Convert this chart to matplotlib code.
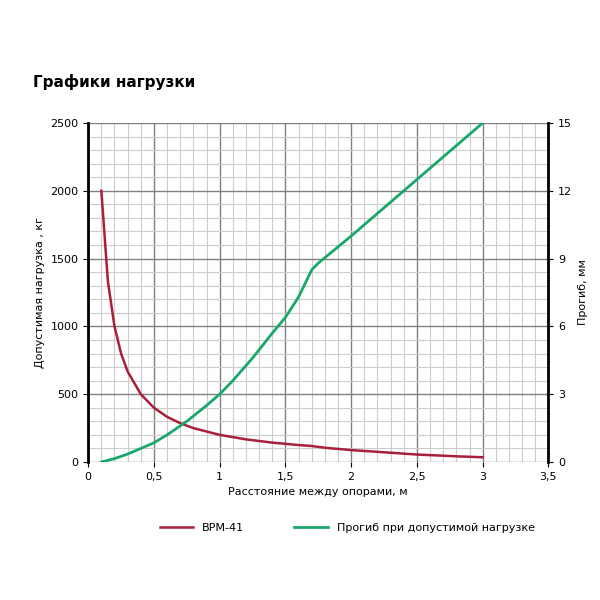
import numpy as np
import matplotlib.pyplot as plt
from matplotlib.ticker import MultipleLocator, FixedLocator, FuncFormatter

span = [0.1, 0.15, 0.2, 0.25, 0.3, 0.4, 0.5, 0.6, 0.7, 0.8, 1.0, 1.2, 1.4, 1.6, 1.7, 1.8, 2.0, 2.2, 2.5, 2.8, 3.0]
load = [2000, 1330, 1000, 800, 667, 500, 400, 333, 286, 250, 200, 167, 143, 125, 118, 105, 88, 75, 55, 42, 35]
span_d = [0.1, 0.2, 0.3, 0.4, 0.5, 0.6, 0.75, 0.9, 1.0, 1.1, 1.25, 1.4, 1.5, 1.6, 1.65, 1.7, 1.75, 2.0, 2.5, 3.0]
defl = [0.0, 0.15, 0.35, 0.6, 0.85, 1.2, 1.8, 2.5, 3.0, 3.6, 4.6, 5.7, 6.4, 7.3, 7.9, 8.5, 8.8, 10.0, 12.5, 15.0]

red = '#a8203a'
green = '#1aa86a'
comma = FuncFormatter(lambda v, p: f'{v:g}'.replace('.', ','))

fig = plt.figure(figsize=(6, 6), dpi=100)
ax = fig.add_axes([0.147, 0.23, 0.767, 0.565])
ax2 = ax.twinx()

ax.set_xlim(0, 3.5)
ax.set_ylim(0, 2500)
ax2.set_ylim(0, 15)
ax.xaxis.set_major_locator(MultipleLocator(0.5))
ax.xaxis.set_minor_locator(FixedLocator([i / 10 for i in range(36) if i % 5]))
ax.yaxis.set_major_locator(MultipleLocator(500))
ax.yaxis.set_minor_locator(FixedLocator([i * 100 for i in range(26) if i % 5]))
ax2.yaxis.set_major_locator(MultipleLocator(3))
ax.xaxis.set_major_formatter(comma)
ax.grid(which='minor', color='#cccccc', lw=0.8)
ax.grid(which='major', color='#808080', lw=1.0)
ax.set_axisbelow(True)
ax.tick_params(which='minor', length=0)
ax.tick_params(labelsize=8)
ax2.tick_params(labelsize=8)

for a in (ax, ax2):
    for s in ('top', 'bottom'):
        a.spines[s].set_visible(False)
ax.spines['left'].set_linewidth(2)
ax2.spines['right'].set_linewidth(2)
ax.spines['right'].set_visible(False)
ax2.spines['left'].set_visible(False)

ax.plot(span, load, color=red, lw=1.8, label='ВРМ-41')
ax2.plot(span_d, defl, color=green, lw=2, label='Прогиб при допустимой нагрузке')

ax.set_xlabel('Расстояние между опорами, м', fontsize=8)
ax.set_ylabel('Допустимая нагрузка , кг', fontsize=8)
ax2.set_ylabel('Прогиб, мм', fontsize=8)

fig.text(0.055, 0.855, 'Графики нагрузки', fontsize=11, fontweight='bold')
h1, l1 = ax.get_legend_handles_labels()
h2, l2 = ax2.get_legend_handles_labels()
fig.legend(h1 + h2, l1 + l2, loc='upper left', bbox_to_anchor=(0.25, 0.145),
           ncol=2, frameon=False, fontsize=8, columnspacing=4.5, handlelength=3)

fig.savefig('out.png', dpi=100)
